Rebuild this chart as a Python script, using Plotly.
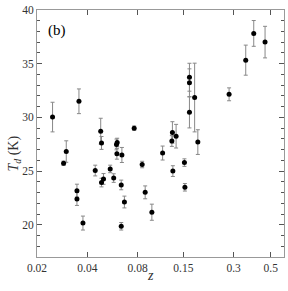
import plotly.graph_objects as go

z_vals = [0.02478, 0.02884, 0.02992, 0.03467, 0.03467, 0.03564, 0.03765, 0.04459,
          0.04809, 0.04862, 0.04862, 0.04997, 0.05481, 0.05751, 0.05976, 0.06034,
          0.06009, 0.06438, 0.0638, 0.0638, 0.06665, 0.07624, 0.08511, 0.08872,
          0.09727, 0.1128, 0.1291, 0.1358, 0.1281, 0.1299, 0.1523, 0.1533,
          0.1632, 0.1632, 0.1632, 0.1753, 0.1832, 0.2817, 0.3543, 0.3956, 0.4623]
T_vals = [30.03, 25.73, 26.82, 23.18, 22.4, 31.5, 20.16, 25.05,
          28.72, 27.62, 23.93, 24.27, 25.2, 24.35, 27.48, 27.66,
          26.61, 26.5, 23.71, 19.86, 22.12, 29.0, 25.61, 23.02,
          21.17, 26.68, 28.6, 28.25, 27.8, 25.0, 25.79, 23.49,
          33.74, 33.22, 30.47, 31.85, 27.7, 32.15, 35.33, 37.82, 37.01]
T_err = [1.38, 0.2, 1.0, 0.6, 0.6, 1.15, 0.65, 0.5,
         1.2, 0.6, 0.4, 0.5, 0.35, 0.4, 0.5, 0.4,
         0.5, 0.7, 0.45, 0.35, 0.55, 0.2, 0.3, 0.6,
         0.75, 0.65, 1.0, 1.1, 0.5, 0.5, 0.35, 0.35,
         1.3, 1.3, 1.45, 3.2, 1.15, 0.6, 1.4, 1.2, 1.47]

x_ticks = [0.02, 0.04, 0.08, 0.15, 0.3, 0.5]
x_ticklabels = ["0.02", "0.04", "0.08", "0.15", "0.3", "0.5"]
y_ticks = [20, 25, 30, 35, 40]

fig = go.Figure()
fig.add_trace(go.Scatter(
    x=z_vals, y=T_vals, mode="markers",
    marker=dict(color="black", size=5),
    error_y=dict(type="data", array=T_err, visible=True, color="#888888",
                 thickness=1, width=2),
    showlegend=False,
))

font_serif = "Liberation Serif, Times New Roman, serif"
fig.update_layout(
    width=288, height=291,
    margin=dict(l=37, r=4, t=10, b=34),
    paper_bgcolor="white", plot_bgcolor="white",
    font=dict(family=font_serif, size=11, color="#333333"),
    xaxis=dict(
        type="log", range=[-1.69897, -0.2218], automargin=False,
        tickvals=x_ticks, ticktext=x_ticklabels,
        ticks="inside", ticklen=5, tickcolor="#555555",
        showline=True, linecolor="#999999", linewidth=1, mirror="ticks",
        showgrid=False, zeroline=False,
        tickfont=dict(size=11.5),
    ),
    yaxis=dict(
        range=[17, 40], automargin=False,
        tickvals=y_ticks,
        ticks="inside", ticklen=5, tickcolor="#555555",
        minor=dict(dtick=1, ticks="inside", ticklen=3, tickcolor="#555555"),
        showline=True, linecolor="#999999", linewidth=1, mirror="ticks",
        showgrid=False, zeroline=False,
        tickfont=dict(size=11.5),
    ),
    annotations=[
        dict(text="(b)", x=0.082, y=0.915, xref="paper", yref="paper",
             showarrow=False, font=dict(size=15, color="black"),
             xanchor="center", yanchor="middle"),
        dict(text="<i>z</i>", x=0.46, y=-0.074, xref="paper", yref="paper",
             showarrow=False, font=dict(size=14, color="#333333"),
             xanchor="center", yanchor="middle"),
        dict(text="<i>T<sub>d</sub></i> (K)", x=-0.092, y=0.42,
             xref="paper", yref="paper", textangle=-90,
             showarrow=False, font=dict(size=14, color="#333333"),
             xanchor="center", yanchor="middle"),
    ],
)

fig.write_html("out.html", config={"displayModeBar": False},
               post_script="document.body.style.margin='0';")
